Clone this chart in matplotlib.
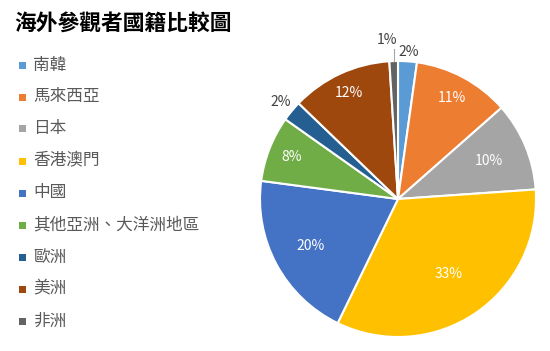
import matplotlib
matplotlib.use("Agg")
import matplotlib.pyplot as plt
from matplotlib.patches import Rectangle
import numpy as np

plt.rcParams['font.family'] = ['Noto Sans CJK TC', 'DejaVu Sans']

title = "海外參觀者國籍比較圖"
categories = ["南韓", "馬來西亞", "日本", "香港澳門", "中國",
              "其他亞洲、大洋洲地區", "歐洲", "美洲", "非洲"]
values = [2.2, 11.3, 10.4, 33.3, 19.9, 7.7, 2.4, 11.8, 1.0]
colors = ["#5B9BD5", "#ED7D31", "#A5A5A5", "#FFC000", "#4472C4",
          "#70AD47", "#255E91", "#9E480E", "#636363"]

# label styling: radius factor, inside (white) or outside (gray)
label_r = [1.07, 0.83, 0.71, 0.66, 0.72, 0.83, 1.10, 0.85, 1.13]
label_inside = [False, True, True, True, True, True, False, True, False]

W, H = 550, 351
fig = plt.figure(figsize=(W / 100, H / 100), dpi=100)

cx, cy, r = 398, 199, 138
ax = fig.add_axes([(cx - r) / W, (H - cy - r) / H, 2 * r / W, 2 * r / H])
wedges, _ = ax.pie(values, colors=colors, startangle=90, counterclock=False,
                   radius=1.0, wedgeprops=dict(edgecolor="white", linewidth=1.5))
ax.set_xlim(-1, 1)
ax.set_ylim(-1, 1)
ax.set_aspect("equal")
ax.axis("off")

total = sum(values)
for i, (w, v) in enumerate(zip(wedges, values)):
    ang = np.deg2rad((w.theta1 + w.theta2) / 2)
    rr = label_r[i]
    x, y = rr * np.cos(ang), rr * np.sin(ang)
    txt = f"{v / total * 100:.0f}%"
    if i == len(values) - 1:
        # leader line for the small slice
        lx = np.cos(ang)
        ax.plot([lx, lx], [1.0, 1.09], color="#A6A6A6", lw=0.8, clip_on=False)
        x, y = lx - 0.05, 1.15
    ax.text(x, y, txt, ha="center", va="center", fontsize=10,
            color="white" if label_inside[i] else "#404040")

fig.text(14 / W, 1 - 23 / H, title, fontsize=15.7, fontweight="bold",
         color="black", ha="left", va="center")

for i, (c, col) in enumerate(zip(categories, colors)):
    yc = 65 + 32 * i
    fig.patches.append(Rectangle((19 / W, 1 - (yc + 3.5) / H), 7 / W, 7 / H,
                                 transform=fig.transFigure, facecolor=col,
                                 edgecolor="none"))
    fig.text(33 / W, 1 - yc / H, c, fontsize=12, color="#595959",
             ha="left", va="center")

fig.savefig("out.png", dpi=100)
